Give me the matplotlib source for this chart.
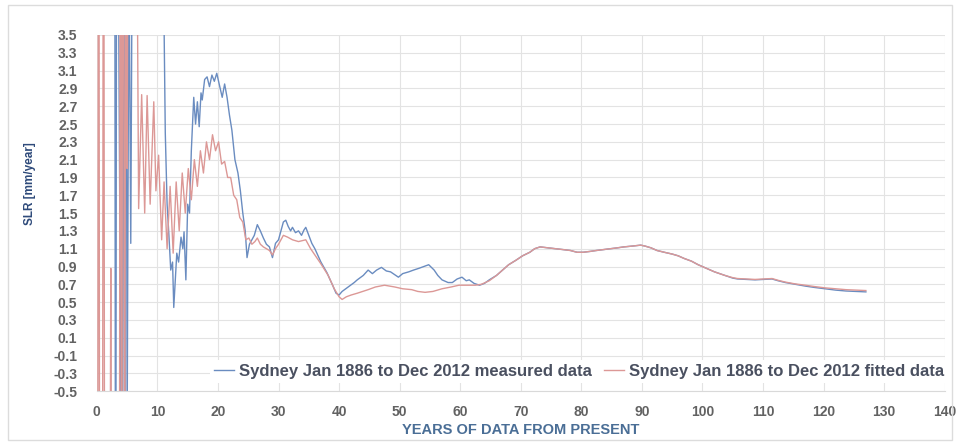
import matplotlib
matplotlib.use('Agg')
import matplotlib.pyplot as plt
from matplotlib.patches import Rectangle

plt.rcParams['font.family'] = ['Liberation Sans', 'DejaVu Sans']

# Sydney measured data: SLR trend vs years of data used
years_meas = [2.9, 3.1, 3.3, 3.5, 4.2, 4.4, 4.6, 4.8, 5.0, 5.3, 5.6, 5.9, 8.0, 11.0,
              11.3, 11.6, 11.9, 12.2, 12.5, 12.7, 13.0, 13.2, 13.5, 13.9, 14.2, 14.4,
              14.7, 15.0, 15.3, 15.6, 16.0, 16.3, 16.6, 16.9, 17.2, 17.4, 17.8, 18.2,
              18.6, 19.0, 19.4, 19.8, 20.2, 20.7, 21.1, 21.5, 21.9, 22.3, 22.8, 23.3,
              23.7, 24.1, 24.5, 24.8, 25.2, 25.6, 26.0, 26.5, 27.0, 27.5, 28.0, 28.5,
              29.0, 29.5, 30.0, 30.4, 30.8, 31.2, 31.6, 32.0, 32.3, 32.8, 33.3, 33.8,
              34.2, 34.5, 35.0, 35.5, 36.0, 37.0, 38.0, 39.0, 39.5, 40.0, 40.5, 41.5,
              42.5, 43.0, 44.0, 44.8, 45.5, 46.2, 47.0, 47.8, 48.5, 49.8, 50.5, 51.5,
              52.3, 53.2, 54.0, 54.8, 55.7, 56.3, 57.0, 58.0, 58.7, 59.5, 60.3, 61.0,
              61.5, 62.3, 63.2, 64.0, 64.8, 66.0, 67.0, 68.0, 69.2, 70.3, 71.5, 72.3,
              73.2, 74.5, 75.8, 77.0, 78.2, 79.3, 80.3, 81.5, 82.5, 83.7, 84.8, 86.0,
              87.0, 88.5, 89.8, 90.5, 91.5, 92.5, 93.7, 95.0, 96.0, 97.0, 98.2, 99.3,
              100.3, 102.0, 103.7, 105.0, 105.8, 107.3, 108.7, 110.0, 111.5, 112.5,
              113.7, 115.3, 117.0, 118.5, 120.3, 122.0, 123.7, 125.5, 127.0]
slr_meas = [9.0, -4.0, 7.5, 5.0, -3.5, 8.0, -2.5, 6.5, -1.0, 4.5, 1.16, 5.5, 6.0, 4.2,
            2.4, 1.6, 1.25, 0.86, 0.95, 0.44, 0.8, 1.05, 0.95, 1.23, 1.1, 1.29,
            0.75, 1.6, 1.5, 2.2, 2.8, 2.5, 2.75, 2.47, 2.85, 2.77, 3.0, 3.03,
            2.92, 3.05, 2.98, 3.07, 2.95, 2.8, 2.95, 2.8, 2.6, 2.43, 2.1, 1.95,
            1.75, 1.5, 1.3, 1.0, 1.15, 1.2, 1.25, 1.37, 1.3, 1.22, 1.15, 1.12,
            1.0, 1.16, 1.2, 1.3, 1.4, 1.42, 1.35, 1.3, 1.34, 1.28, 1.3, 1.25,
            1.31, 1.34, 1.25, 1.16, 1.1, 0.95, 0.83, 0.68, 0.6, 0.58, 0.62, 0.67,
            0.72, 0.75, 0.8, 0.86, 0.82, 0.86, 0.89, 0.85, 0.84, 0.78, 0.82, 0.84,
            0.86, 0.88, 0.9, 0.92, 0.86, 0.8, 0.75, 0.72, 0.72, 0.76, 0.78, 0.74,
            0.75, 0.71, 0.69, 0.71, 0.75, 0.8, 0.86, 0.92, 0.97, 1.02, 1.06, 1.1,
            1.12, 1.11, 1.1, 1.09, 1.08, 1.06, 1.06, 1.07, 1.08, 1.09, 1.1, 1.11,
            1.12, 1.13, 1.14, 1.13, 1.11, 1.08, 1.06, 1.04, 1.02, 0.99, 0.96, 0.92,
            0.89, 0.84, 0.8, 0.77, 0.76, 0.755, 0.75, 0.755, 0.76, 0.74,
            0.72, 0.70, 0.68, 0.665, 0.65, 0.635, 0.625, 0.62, 0.615]

# Sydney fitted data
years_fit = [0.1, 0.3, 0.5, 0.9, 1.1, 1.3, 2.1, 2.3, 2.5, 3.7, 3.9, 4.1, 4.3, 4.6,
             4.8, 5.0, 5.2, 6.6, 6.9, 7.4, 7.9, 8.3, 8.8, 9.4, 9.75, 10.2, 10.7,
             11.1, 11.6, 12.1, 12.6, 13.1, 13.6, 14.1, 14.6, 15.1, 15.6, 16.1, 16.6,
             17.1, 17.6, 18.1, 18.6, 19.1, 19.6, 20.1, 20.6, 21.1, 21.6, 22.1, 22.6,
             23.1, 23.6, 24.1, 24.6, 25.1, 25.6, 26.1, 26.5, 27.0, 27.5, 28.0, 28.5,
             29.0, 29.5, 30.0, 30.8, 31.5, 32.3, 33.3, 34.5, 35.3, 35.8, 37.0, 38.2,
             39.2, 40.0, 40.5, 41.2, 42.0, 43.0, 44.8, 46.0, 47.5, 49.2, 50.5, 52.0,
             53.0, 54.2, 55.5, 57.0, 58.5, 59.8, 61.0, 62.5, 63.5, 64.8, 66.0, 67.0,
             68.0, 69.2, 70.3, 71.5, 72.3, 73.2, 74.5, 75.8, 77.0, 78.2, 79.3, 80.3,
             81.5, 82.5, 83.7, 84.8, 86.0, 87.0, 88.5, 89.8, 90.5, 91.5, 92.5, 93.7,
             95.0, 96.0, 97.0, 98.2, 99.3, 100.3, 102.0, 103.7, 105.0, 105.8, 107.3,
             108.7, 110.0, 111.5, 112.5, 113.7, 115.3, 117.0, 118.5, 120.3, 122.0,
             123.7, 125.5, 127.0]
slr_fit = [-6.0, 9.0, -6.0, -5.0, 9.0, -4.0, -4.0, 0.88, -5.0, -4.0, 9.0, -3.0, 8.0, -2.0,
           7.0, 2.0, 6.0, 5.0, 1.55, 2.83, 1.5, 2.82, 1.6, 2.75, 1.75, 2.15, 1.2,
           1.85, 1.1, 1.8, 1.05, 1.85, 1.3, 1.95, 1.5, 2.0, 1.65, 2.1, 1.8,
           2.2, 1.95, 2.3, 2.1, 2.38, 2.2, 2.3, 2.05, 2.08, 1.9, 1.9, 1.7,
           1.65, 1.45, 1.4, 1.2, 1.22, 1.15, 1.18, 1.22, 1.15, 1.12, 1.1, 1.08,
           1.03, 1.1, 1.15, 1.25, 1.23, 1.2, 1.18, 1.2, 1.1, 1.05, 0.93, 0.8,
           0.65, 0.56, 0.53, 0.56, 0.58, 0.6, 0.64, 0.67, 0.69, 0.67, 0.65, 0.64,
           0.62, 0.61, 0.62, 0.65, 0.67, 0.69, 0.69, 0.69, 0.7, 0.74, 0.8, 0.86,
           0.92, 0.97, 1.02, 1.06, 1.1, 1.12, 1.11, 1.1, 1.09, 1.08, 1.06, 1.06,
           1.07, 1.08, 1.09, 1.1, 1.11, 1.12, 1.13, 1.14, 1.13, 1.11, 1.08, 1.06,
           1.04, 1.02, 0.99, 0.96, 0.92, 0.89, 0.84, 0.8, 0.775, 0.765, 0.76,
           0.755, 0.76, 0.765, 0.745, 0.725, 0.705, 0.69, 0.675, 0.66, 0.65,
           0.64, 0.635, 0.63]

xticks = list(range(0, 141, 10))
yticks = [round(-0.5 + 0.2 * i, 1) for i in range(21)]

fig = plt.figure(figsize=(9.59, 4.43), dpi=100)
ax = fig.add_axes([0.101, 0.117, 0.884, 0.804])

ax.plot(years_meas, slr_meas, color='#6a8cc0', lw=1.0,
        label='Sydney Jan 1886 to Dec 2012 measured data')
ax.plot(years_fit, slr_fit, color='#dc9896', lw=1.0,
        label='Sydney Jan 1886 to Dec 2012 fitted data')

ax.set_xlim(0, 140)
ax.set_ylim(-0.5, 3.5)
ax.set_xticks(xticks)
ax.set_yticks(yticks)
ax.set_yticklabels(['%.1f' % v for v in yticks])
ax.grid(True, color='#e3e3e3', lw=0.8)
ax.set_axisbelow(True)
for s in ['top', 'right', 'left']:
    ax.spines[s].set_visible(False)
ax.spines['bottom'].set_color('#d9d9d9')
ax.tick_params(length=0, labelsize=10, colors='#626262')
ax.tick_params(axis='y', pad=14)
ax.tick_params(axis='x', pad=10)
for lab in ax.get_xticklabels() + ax.get_yticklabels():
    lab.set_fontweight('bold')

ax.set_xlabel('YEARS OF DATA FROM PRESENT', fontsize=10.5, fontweight='bold',
              color='#4a6e96', labelpad=3)
ax.set_ylabel('SLR [mm/year]', fontsize=8.5, fontweight='bold', color='#2e4a7a')
ax.yaxis.set_label_coords(-0.072, 0.584)

leg = ax.legend(loc='lower right', bbox_to_anchor=(1.014, 0.0), ncol=2,
                fontsize=12, frameon=True, handlelength=1.2, columnspacing=0.7,
                handletextpad=0.3, borderpad=0.25)
leg.get_frame().set_facecolor('white')
leg.get_frame().set_edgecolor('none')
leg.get_frame().set_alpha(1)
for t in leg.get_texts():
    t.set_color('#4a5060')
    t.set_fontweight('bold')

# chart area border
fig.patches.append(Rectangle((8 / 959, 3 / 443), 944 / 959, 435 / 443,
                             transform=fig.transFigure, fill=False,
                             edgecolor='#dcdcdc', lw=1))

plt.savefig('out.png', dpi=100)
